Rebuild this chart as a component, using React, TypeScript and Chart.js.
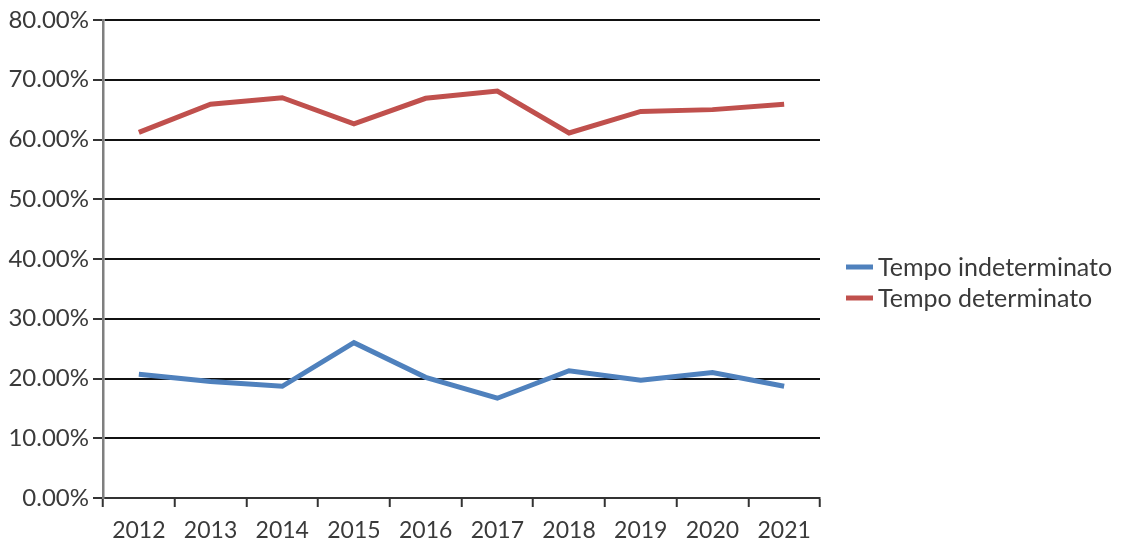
import React, { useEffect, useRef } from "react";
import { Chart, registerables } from "chart.js";

Chart.register(...registerables);

const categories = ["2012", "2013", "2014", "2015", "2016", "2017", "2018", "2019", "2020", "2021"];
const seriesNames = ["Tempo indeterminato", "Tempo determinato"];
const indeterminato = [20.7, 19.5, 18.7, 26.0, 20.2, 16.7, 21.3, 19.7, 21.0, 18.7];
const determinato = [61.2, 65.9, 67.0, 62.6, 66.9, 68.1, 61.1, 64.7, 65.0, 65.9];
const seriesColors = ["#4F81BD", "#C0504D"];
const yTicksMin = 0;
const yTicksMax = 80;
const yStep = 10;

const FONT = "Lato, 'Liberation Sans', sans-serif";
const TEXT = "#3a3a3a";

const legendPlugin = {
  id: "sideLegend",
  afterDraw(chart: any) {
    const { ctx, chartArea } = chart;
    const x0 = chartArea.right + 26;
    const midY = (chartArea.top + chartArea.bottom) / 2;
    ctx.save();
    ctx.font = `25px ${FONT}`;
    ctx.textBaseline = "middle";
    ctx.textAlign = "left";
    chart.data.datasets.forEach((ds: any, i: number) => {
      const y = midY + 8 + i * 31;
      ctx.strokeStyle = ds.borderColor;
      ctx.lineWidth = 5;
      ctx.beginPath();
      ctx.moveTo(x0, y);
      ctx.lineTo(x0 + 27, y);
      ctx.stroke();
      ctx.fillStyle = TEXT;
      ctx.fillText(ds.label, x0 + 32, y + 1);
    });
    ctx.restore();
  },
};

export default function App() {
  const ref = useRef<HTMLCanvasElement | null>(null);
  useEffect(() => {
    if (!ref.current) return;
    const chart = new Chart(ref.current, {
      type: "line",
      data: {
        labels: categories,
        datasets: [
          {
            label: seriesNames[0],
            data: indeterminato,
            borderColor: seriesColors[0],
            backgroundColor: seriesColors[0],
            borderWidth: 5,
            pointRadius: 0,
            tension: 0,
          },
          {
            label: seriesNames[1],
            data: determinato,
            borderColor: seriesColors[1],
            backgroundColor: seriesColors[1],
            borderWidth: 5,
            pointRadius: 0,
            tension: 0,
          },
        ],
      },
      options: {
        responsive: false,
        animation: false,
        layout: { padding: { left: 0, right: 320, top: 20, bottom: 0 } },
        plugins: {
          legend: { display: false },
          tooltip: { enabled: false },
        },
        scales: {
          x: {
            offset: true,
            afterFit: (s: any) => {
              s.height = 59;
            },
            grid: {
              offset: true,
              drawOnChartArea: true,
              color: (c: any) => (c.index === categories.length ? "#d0d0d0" : "rgba(0,0,0,0)"),
              lineWidth: 1.5,
              tickColor: "#333333",
              tickLength: 9,
              tickWidth: 2,
            },
            border: { color: "#333333", width: 2 },
            ticks: {
              color: TEXT,
              font: { family: FONT, size: 23 },
              padding: 10,
              maxRotation: 0,
              autoSkip: false,
            },
          },
          y: {
            min: yTicksMin,
            max: yTicksMax,
            afterFit: (s: any) => {
              s.width = 103;
            },
            grid: {
              color: "#111111",
              lineWidth: 2,
              tickColor: "#333333",
              tickLength: 10,
              tickWidth: 2,
            },
            border: { color: "#7f7f7f", width: 2.5 },
            ticks: {
              stepSize: yStep,
              color: TEXT,
              font: { family: FONT, size: 24 },
              padding: 4,
              callback: (v: any) => Number(v).toFixed(2) + "%",
            },
          },
        },
      },
      plugins: [legendPlugin],
    });
    return () => chart.destroy();
  }, []);
  return (
    <div style={{ position: "absolute", left: 0, top: 0, width: 1140, height: 557, background: "#fff" }}>
      <canvas ref={ref} width={1140} height={557} style={{ width: 1140, height: 557, display: "block" }} />
    </div>
  );
}
